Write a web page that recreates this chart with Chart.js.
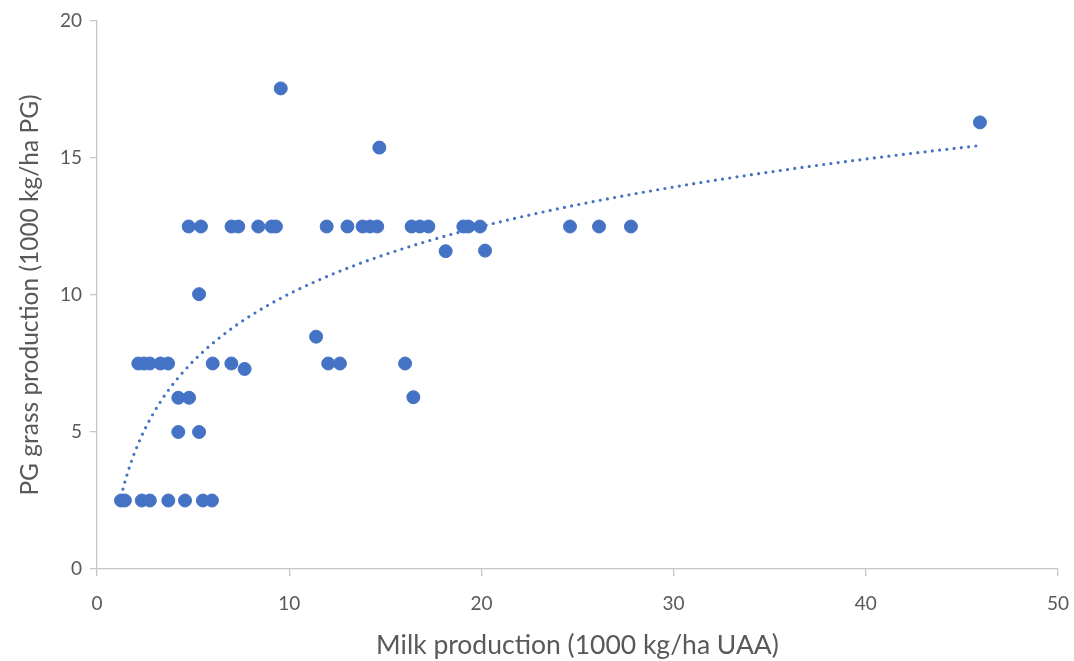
<!DOCTYPE html>
<html>
<head>
<meta charset="utf-8">
<script src="https://cdn.jsdelivr.net/npm/chart.js@4/dist/chart.umd.min.js"></script>
<style>
  html, body { margin: 0; padding: 0; background: #fff; }
  #wrap { width: 1074px; height: 661px; }
</style>
</head>
<body>
<div id="wrap"><canvas id="chart" width="1074" height="661"></canvas></div>
<script>
// Milk production (1000 kg/ha UAA)
const milkX = [
  1.25, 1.45, 2.33, 2.75, 3.71, 4.58, 5.51, 5.98,
  4.23, 5.31,
  4.23, 4.79,
  2.15, 2.45, 2.75, 3.3, 3.7, 6.02, 6.99, 7.68,
  11.4, 12.03, 12.64, 16.03, 16.46,
  5.31,
  4.77, 5.41, 7.0, 7.35, 8.39, 9.09, 9.31, 11.95, 13.03, 13.82, 14.2, 14.58,
  16.37, 16.8, 17.24, 19.06, 19.32, 19.93, 24.61, 26.12, 27.78,
  18.14, 20.19,
  9.56, 14.69, 45.94
];
// PG grass production (1000 kg/ha PG)
const grassY = [
  2.5, 2.5, 2.5, 2.5, 2.5, 2.5, 2.5, 2.5,
  5.0, 5.0,
  6.25, 6.25,
  7.5, 7.5, 7.5, 7.5, 7.5, 7.5, 7.5, 7.3,
  8.48, 7.5, 7.5, 7.5, 6.27,
  10.03,
  12.5, 12.5, 12.5, 12.5, 12.5, 12.5, 12.5, 12.5, 12.5, 12.5, 12.5, 12.5,
  12.5, 12.5, 12.5, 12.5, 12.5, 12.5, 12.5, 12.5, 12.5,
  11.6, 11.62,
  17.54, 15.38, 16.3
];
const xTicks = [0, 10, 20, 30, 40, 50];
const yTicks = [0, 5, 10, 15, 20];

const points = milkX.map((x, i) => ({ x: x, y: grassY[i] }));

// logarithmic trendline (least squares on ln x), like the spreadsheet fit
const n = milkX.length;
const lx = milkX.map(Math.log);
const mx = lx.reduce((a, b) => a + b, 0) / n;
const my = grassY.reduce((a, b) => a + b, 0) / n;
let sxy = 0, sxx = 0;
for (let i = 0; i < n; i++) { sxy += (lx[i] - mx) * (grassY[i] - my); sxx += (lx[i] - mx) ** 2; }
const slope = sxy / sxx, icpt = my - slope * mx;
const xmin = Math.min(...milkX), xmax = Math.max(...milkX);
const trend = [];
for (let k = 0; k <= 200; k++) {
  const x = xmin + (xmax - xmin) * k / 200;
  trend.push({ x: x, y: slope * Math.log(x) + icpt });
}

const FONT = 'Lato, "Open Sans", sans-serif';
const AXIS = '#c6c6c6';
const TXT = '#595959';

new Chart(document.getElementById('chart'), {
  type: 'scatter',
  data: {
    datasets: [
      {
        data: points, backgroundColor: '#4472C4', borderColor: '#4472C4',
        pointRadius: 6.5, pointHoverRadius: 6.5, order: 1
      },
      {
        type: 'line', data: trend, showLine: true, pointRadius: 0,
        borderColor: '#4472C4', borderWidth: 3.2, borderDash: [0, 7.3],
        borderCapStyle: 'round', fill: false, tension: 0, order: 2
      }
    ]
  },
  options: {
    responsive: false, animation: false,
    layout: { autoPadding: false, padding: { left: 15, top: 21, right: 16, bottom: 0 } },
    plugins: { legend: { display: false }, tooltip: { enabled: false } },
    scales: {
      x: {
        type: 'linear', min: 0, max: 50,
        afterBuildTicks: s => { s.ticks = xTicks.map(v => ({ value: v })); },
        afterFit: s => { s.height = 92; s.paddingLeft = 0; s.paddingRight = 0; },
        grid: { drawOnChartArea: false, drawTicks: true, tickLength: 7, color: AXIS, lineWidth: 1.3 },
        border: { color: AXIS, width: 1.3 },
        ticks: { color: TXT, font: { family: FONT, size: 19 }, padding: 16 },
        title: { display: true, text: 'Milk production (1000 kg/ha UAA)', color: TXT,
                 font: { family: FONT, size: 26.5 }, padding: { top: 0, bottom: 0 } }
      },
      y: {
        type: 'linear', min: 0, max: 20,
        afterBuildTicks: s => { s.ticks = yTicks.map(v => ({ value: v })); },
        afterFit: s => { s.width = 82; s.paddingTop = 0; s.paddingBottom = 0; },
        grid: { drawOnChartArea: false, drawTicks: true, tickLength: 7, color: AXIS, lineWidth: 1.3 },
        border: { color: AXIS, width: 1.3 },
        ticks: { color: TXT, font: { family: FONT, size: 19 }, padding: 8 },
        title: { display: true, text: 'PG grass production (1000 kg/ha PG)', color: TXT,
                 font: { family: FONT, size: 24.5 }, padding: { top: 0, bottom: 0 } }
      }
    }
  }
});
</script>
</body>
</html>
